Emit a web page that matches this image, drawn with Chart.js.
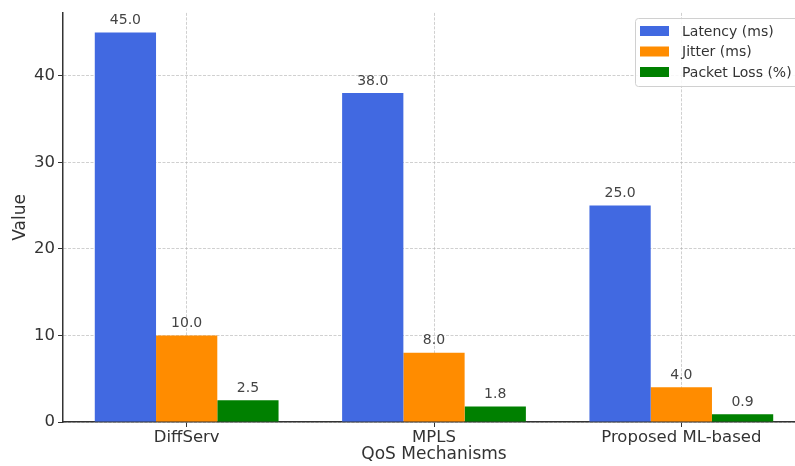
<!DOCTYPE html>
<html lang="en">
<head>
  <meta charset="UTF-8">
  <title>QoS Mechanisms</title>
  <script src="https://cdn.jsdelivr.net/npm/chart.js"></script>
  <style>
    html, body { margin: 0; padding: 0; overflow: hidden; background: #fff; }
    #wrap { width: 805px; height: 466px; }
  </style>
</head>
<body>
  <div id="wrap"><canvas id="qosChart" width="805" height="466"></canvas></div>

  <script>
    const mechanisms = ['DiffServ', 'MPLS', 'Proposed ML-based'];
    const latency = [45.0, 38.0, 25.0];
    const jitter = [10.0, 8.0, 4.0];
    const packetLoss = [2.5, 1.8, 0.9];
    const yTicks = [0, 10, 20, 30, 40];

    const FONT = 'DejaVu Sans';
    const gridColor = 'rgba(176,176,176,0.6)';

    // numbers above each bar
    const valueLabels = {
      id: 'valueLabels',
      afterDatasetsDraw(chart) {
        const ctx = chart.ctx;
        ctx.save();
        ctx.font = '14px "' + FONT + '"';
        ctx.fillStyle = '#444';
        ctx.textAlign = 'center';
        ctx.textBaseline = 'bottom';
        chart.data.datasets.forEach((ds, i) => {
          chart.getDatasetMeta(i).data.forEach((bar, j) => {
            ctx.fillText(ds.data[j].toFixed(1), bar.x, bar.y - 5);
          });
        });
        ctx.restore();
      }
    };

    // matplotlib style legend box in the upper right
    const boxLegend = {
      id: 'boxLegend',
      afterDraw(chart) {
        const ctx = chart.ctx;
        const x = 635, y = 18, w = 164, h = 68;
        ctx.save();
        ctx.fillStyle = 'rgba(255,255,255,0.85)';
        ctx.strokeStyle = '#d0d0d0';
        ctx.lineWidth = 1;
        ctx.beginPath();
        ctx.roundRect(x + 0.5, y + 0.5, w, h, 3);
        ctx.fill();
        ctx.stroke();
        ctx.font = '14px "' + FONT + '"';
        ctx.textBaseline = 'middle';
        chart.data.datasets.forEach((ds, i) => {
          const cy = 31 + i * 20.5;
          ctx.fillStyle = ds.backgroundColor;
          ctx.fillRect(640, cy - 5, 29, 10);
          ctx.fillStyle = '#333';
          ctx.fillText(ds.label, 682, cy + 1);
        });
        ctx.restore();
      }
    };

    new Chart(document.getElementById('qosChart'), {
      type: 'bar',
      data: {
        labels: mechanisms,
        datasets: [
          { label: 'Latency (ms)', data: latency, backgroundColor: '#4169E1' },
          { label: 'Jitter (ms)', data: jitter, backgroundColor: '#FF8C00' },
          { label: 'Packet Loss (%)', data: packetLoss, backgroundColor: '#008000' }
        ]
      },
      options: {
        responsive: false,
        animation: false,
        layout: { padding: { top: 8, right: 0, left: 0, bottom: 0 } },
        datasets: { bar: { categoryPercentage: 0.743, barPercentage: 1.0, borderWidth: 0 } },
        plugins: { legend: { display: false }, tooltip: { enabled: false } },
        scales: {
          x: {
            z: 1,
            offset: true,
            grid: { offset: false, color: gridColor, lineWidth: 1, drawTicks: true, tickLength: 5, tickColor: '#333', tickWidth: 1 },
            border: { display: true, color: '#333', width: 1.5, dash: [3, 1.5] },
            ticks: { color: '#333', font: { family: FONT, size: 16.5 }, padding: 1, maxRotation: 0 },
            title: { display: true, text: 'QoS Mechanisms', color: '#333', font: { family: FONT, size: 17 }, padding: { top: 0, bottom: 1 } },
            afterFit(scale) { scale.height = 44; }
          },
          y: {
            z: 1,
            min: 0,
            max: 47.25,
            afterBuildTicks(scale) { scale.ticks = yTicks.map(v => ({ value: v })); },
            grid: { color: gridColor, lineWidth: 1, drawTicks: true, tickLength: 5, tickColor: '#333', tickWidth: 1 },
            border: { display: true, color: '#333', width: 1.5, dash: [3, 1.5] },
            ticks: { color: '#333', font: { family: FONT, size: 16.5 }, padding: 3 },
            title: { display: true, text: 'Value', color: '#333', font: { family: FONT, size: 17 }, padding: { top: 10, bottom: 0 } },
            afterFit(scale) { scale.width = 63; }
          }
        }
      },
      plugins: [valueLabels, boxLegend]
    });
  </script>
</body>
</html>
